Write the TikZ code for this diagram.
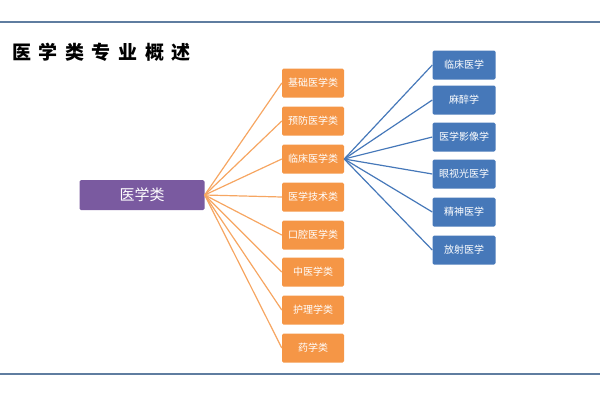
\documentclass[tikz,border=0pt]{standalone}
\usepackage{fontspec}
\setmainfont{Noto Sans CJK SC}
\newfontfamily\titlefont[LetterSpace=40]{Noto Sans CJK SC}
\usetikzlibrary{positioning}

\definecolor{rootpurple}{RGB}{122,90,160}
\definecolor{leaforange}{RGB}{245,150,70}
\definecolor{leafblue}{RGB}{70,120,185}
\definecolor{rulegray}{RGB}{95,125,160}

\tikzset{
  rootbox/.style={fill=rootpurple, rounded corners=1.5pt, minimum width=125pt, minimum height=30pt, text=white, font=\fontsize{15}{17}\selectfont},
  orangebox/.style={fill=leaforange, rounded corners=1.5pt, minimum width=62pt, minimum height=29pt, text=white, font=\fontsize{10}{12}\selectfont, inner sep=1pt},
  bluebox/.style={fill=leafblue, rounded corners=1.5pt, minimum width=63pt, minimum height=29pt, text=white, font=\fontsize{10}{12}\selectfont, inner sep=1pt},
  orangeline/.style={draw=leaforange!85, line width=1.2pt},
  blueline/.style={draw=leafblue, line width=1.2pt}
}

\begin{document}
\begin{tikzpicture}[x=1pt,y=-1pt]
\useasboundingbox (0,0) rectangle (600,400);
\draw[rulegray, line width=1.5pt] (0,22) -- (600,22);
\draw[rulegray, line width=1.5pt] (0,374) -- (600,374);
\node[anchor=west, font=\titlefont\fontsize{19}{21}\selectfont\bfseries, inner sep=0pt] (title) at (12,52) {医学类专业概述};

\node[rootbox] (root) at (142,195) {医学类};

\node[orangebox] (o1) at (313,83) {基础医学类};
\node[orangebox] (o2) at (313,121) {预防医学类};
\node[orangebox] (o3) at (313,159) {临床医学类};
\node[orangebox] (o4) at (313,197) {医学技术类};
\node[orangebox] (o5) at (313,235) {口腔医学类};
\node[orangebox] (o6) at (313,272) {中医学类};
\node[orangebox] (o7) at (313,310) {护理学类};
\node[orangebox] (o8) at (313,348) {药学类};

\node[bluebox] (b1) at (464,65) {临床医学};
\node[bluebox] (b2) at (464,100) {麻醉学};
\node[bluebox] (b3) at (464,137) {医学影像学};
\node[bluebox] (b4) at (464,174) {眼视光医学};
\node[bluebox] (b5) at (464,212) {精神医学};
\node[bluebox] (b6) at (464,250) {放射医学};

\foreach \i in {1,...,8}
  \draw[orangeline] (root.east) -- (o\i.west);
\foreach \i in {1,...,6}
  \draw[blueline] (o3.east) -- (b\i.west);
\end{tikzpicture}
\end{document}
